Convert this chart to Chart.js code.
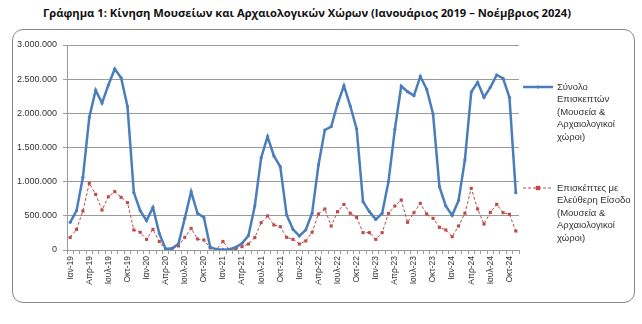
<!DOCTYPE html>
<html lang="el">
<head>
<meta charset="UTF-8">
<title>Κίνηση Μουσείων και Αρχαιολογικών Χώρων</title>
<script src="https://cdn.jsdelivr.net/npm/chart.js"></script>
<style>
    body {
        margin: 0;
        background: #ffffff;
        width: 642px;
        height: 324px;
        position: relative;
        overflow: hidden;
    }
    .title {
        position: absolute;
        left: 0;
        top: 5px;
        width: 614px;
        text-align: center;
        font-family: "Open Sans", sans-serif;
        font-weight: bold;
        font-size: 11.2px;
        color: #111;
        white-space: nowrap;
    }
    .frame {
        position: absolute;
        left: 12px;
        top: 29px;
        width: 623px;
        height: 274px;
        box-sizing: border-box;
        border: 1px solid #8a8a8a;
        border-radius: 11px;
    }
    #chart {
        position: absolute;
        left: 0;
        top: 0;
    }
</style>
</head>
<body>
<div class="title">Γράφημα 1: Κίνηση Μουσείων και Αρχαιολογικών Χώρων (Ιανουάριος 2019 – Νοέμβριος 2024)</div>
<div class="frame"></div>
<canvas id="chart" width="642" height="324"></canvas>

<script>
    // Monthly figures, Jan 2019 - Nov 2024
    const monthNames = ['Ιαν', 'Φεβ', 'Μαρ', 'Απρ', 'Μαϊ', 'Ιουν', 'Ιουλ', 'Αυγ', 'Σεπ', 'Οκτ', 'Νοε', 'Δεκ'];
    const years = ['19', '20', '21', '22', '23', '24'];
    const monthCount = 71;

    const totalVisitors = [
        405000, 576000, 1064000, 1940000, 2340000, 2150000, 2415000, 2650000, 2520000, 2100000, 840000, 576000,
        430000, 624000, 240000, 15000, 25000, 88000, 463000, 854000, 537000, 478000, 40000, 10000,
        5000, 10000, 40000, 98000, 210000, 644000, 1351000, 1659000, 1376000, 1220000, 512000, 302000,
        205000, 293000, 537000, 1244000, 1756000, 1805000, 2137000, 2405000, 2107000, 1771000, 707000, 561000,
        449000, 537000, 1000000, 1766000, 2400000, 2317000, 2259000, 2540000, 2352000, 1990000, 927000, 644000,
        507000, 722000, 1317000, 2312000, 2454000, 2234000, 2381000, 2561000, 2512000, 2234000, 839000
    ];

    const freeEntryVisitors = [
        185000, 302000, 571000, 976000, 815000, 585000, 780000, 854000, 771000, 693000, 293000, 259000,
        156000, 302000, 125000, 8000, 15000, 59000, 186000, 317000, 161000, 146000, 30000, 8000,
        125000, 8000, 15000, 49000, 88000, 181000, 400000, 498000, 366000, 341000, 185000, 156000,
        88000, 132000, 259000, 527000, 600000, 351000, 561000, 668000, 537000, 478000, 254000, 254000,
        156000, 254000, 537000, 644000, 732000, 405000, 546000, 683000, 527000, 463000, 332000, 293000,
        195000, 351000, 537000, 902000, 600000, 380000, 551000, 668000, 546000, 522000, 278000
    ];

    const totalLabel = ['Σύνολο', 'Επισκεπτών', '(Μουσεία &', 'Αρχαιολογικοί', 'χώροι)'];
    const freeLabel = ['Επισκέπτες με', 'Ελεύθερη Είσοδο', '(Μουσεία &', 'Αρχαιολογικοί', 'χώροι)'];

    const yTicks = [0, 500000, 1000000, 1500000, 2000000, 2500000, 3000000];

    // month labels like "Ιαν-19"
    const labels = [];
    for (let i = 0; i < monthCount; i++) {
        labels.push(monthNames[i % 12] + '-' + years[Math.floor(i / 12)]);
    }

    function formatNumber(v) {
        return String(v).replace(/\B(?=(\d{3})+(?!\d))/g, '.');
    }

    const blue = '#4a7ebb';
    const red = '#be4b48';
    const gridColor = '#9a9a9a';
    const font = 'Liberation Sans, Arial, sans-serif';

    // legend on the right, with multi-line labels
    const sideLegend = {
        id: 'sideLegend',
        afterDraw(chart, args, opts) {
            const ctx = chart.ctx;
            chart.data.datasets.forEach((ds, i) => {
                const y = opts.rows[i];
                const x0 = opts.x;
                const x1 = opts.x + opts.lineLength;
                ctx.save();
                ctx.strokeStyle = ds.borderColor;
                ctx.lineWidth = ds.borderWidth;
                ctx.setLineDash(ds.borderDash || []);
                ctx.beginPath();
                ctx.moveTo(x0, y);
                ctx.lineTo(x1, y);
                ctx.stroke();
                ctx.setLineDash([]);
                ctx.fillStyle = ds.pointBackgroundColor;
                const mx = (x0 + x1) / 2;
                const r = ds.pointRadius;
                if (ds.pointStyle === 'rect') {
                    ctx.fillRect(mx - r, y - r, r * 2, r * 2);
                } else {
                    ctx.beginPath();
                    ctx.arc(mx, y, r, 0, Math.PI * 2);
                    ctx.fill();
                }
                ctx.fillStyle = '#333';
                ctx.font = '9.5px ' + font;
                ctx.textBaseline = 'middle';
                ctx.textAlign = 'left';
                ds.label.forEach((line, k) => {
                    ctx.fillText(line, x1 + 4, y + k * opts.lineHeight);
                });
                ctx.restore();
            });
        }
    };

    const chart = new Chart(document.getElementById('chart'), {
        type: 'line',
        data: {
            labels: labels,
            datasets: [
                {
                    label: totalLabel,
                    data: totalVisitors,
                    borderColor: blue,
                    backgroundColor: blue,
                    pointBackgroundColor: blue,
                    pointBorderWidth: 0,
                    borderWidth: 2.5,
                    pointRadius: 1.6,
                    pointStyle: 'circle',
                    tension: 0,
                    fill: false
                },
                {
                    label: freeLabel,
                    data: freeEntryVisitors,
                    borderColor: red,
                    backgroundColor: red,
                    pointBackgroundColor: red,
                    pointBorderWidth: 0,
                    borderWidth: 1,
                    borderDash: [3, 2],
                    pointRadius: 2.2,
                    pointStyle: 'rect',
                    tension: 0,
                    fill: false
                }
            ]
        },
        options: {
            responsive: false,
            animation: false,
            events: [],
            layout: {
                padding: { left: 12, top: 45, right: 123, bottom: 24 }
            },
            plugins: {
                legend: { display: false },
                tooltip: { enabled: false },
                sideLegend: { x: 523, lineLength: 30, rows: [87, 188], lineHeight: 12.6 }
            },
            scales: {
                x: {
                    offset: true,
                    afterFit(scale) { scale.height = 50; },
                    grid: {
                        offset: true,
                        display: true,
                        drawOnChartArea: false,
                        drawTicks: true,
                        tickLength: 4,
                        color: gridColor
                    },
                    border: { color: gridColor, width: 1 },
                    ticks: {
                        autoSkip: false,
                        minRotation: 90,
                        maxRotation: 90,
                        padding: 2,
                        color: '#333',
                        font: { family: font, size: 8.5 },
                        callback(value, index) {
                            return index % 3 === 0 ? this.getLabelForValue(value) : '';
                        }
                    }
                },
                y: {
                    min: 0,
                    max: 3000000,
                    afterFit(scale) { scale.width = 55; },
                    afterBuildTicks(scale) {
                        scale.ticks = yTicks.map(v => ({ value: v }));
                    },
                    grid: {
                        color: gridColor,
                        lineWidth: 1,
                        drawTicks: true,
                        tickLength: 4
                    },
                    border: { color: gridColor, width: 1 },
                    ticks: {
                        padding: 6,
                        color: '#333',
                        font: { family: font, size: 9 },
                        callback(value) { return formatNumber(value); }
                    }
                }
            }
        },
        plugins: [sideLegend]
    });
</script>
</body>
</html>
